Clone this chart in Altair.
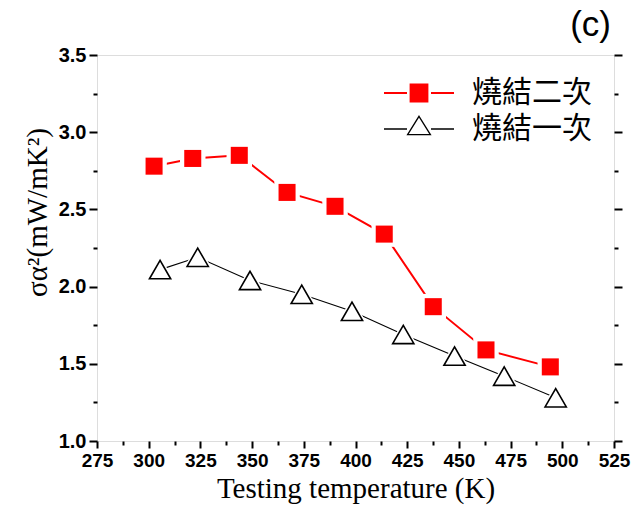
import altair as alt
import pandas as pd

# ---- data ----
series_names = ["燒結二次", "燒結一次"]
temp_twice = [302.6, 321.3, 343.8, 366.9, 390.1, 413.9, 437.6, 463.1, 494.2]
pf_twice = [2.78, 2.83, 2.85, 2.61, 2.52, 2.34, 1.87, 1.59, 1.48]
temp_once = [305.5, 323.7, 349.0, 374.0, 398.3, 423.1, 447.9, 471.9, 496.8]
pf_once = [2.11, 2.19, 2.04, 1.95, 1.84, 1.69, 1.55, 1.42, 1.28]

x_ticks = [275, 287.5, 300, 312.5, 325, 337.5, 350, 362.5, 375, 387.5, 400,
           412.5, 425, 437.5, 450, 462.5, 475, 487.5, 500, 512.5, 525]
y_ticks = [1.0, 1.25, 1.5, 1.75, 2.0, 2.25, 2.5, 2.75, 3.0, 3.25, 3.5]

df = pd.DataFrame({
    "T": temp_twice + temp_once,
    "PF": pf_twice + pf_once,
    "s": [series_names[0]] * len(temp_twice) + [series_names[1]] * len(temp_once),
})

xs = alt.Scale(domain=[275, 525], nice=False, zero=False)
ys = alt.Scale(domain=[1.0, 3.5], nice=False, zero=False)

lab_font = "Liberation Sans"
title_font = "Liberation Serif"

x_axis = alt.Axis(
    values=x_ticks, format="d", labelOverlap=False, labelFlush=False,
    labelExpr="datum.value % 25 == 0 ? datum.label : ''",
    tickSize={"condition": {"test": "datum.value % 25 == 0", "value": 7}, "value": 4},
    tickWidth=2, tickColor="black", domain=False, grid=False,
    labelFont=lab_font, labelFontWeight="bold", labelFontSize=19, labelColor="black",
    labelPadding=3,
    title="Testing temperature (K)", titleFont=title_font, titleFontSize=29,
    titleFontWeight="normal", titleColor="black", titlePadding=4,
)
y_major = "abs(datum.value*2 - round(datum.value*2)) < 0.001"
y_axis = alt.Axis(
    values=y_ticks, format=".1f", labelOverlap=False, labelFlush=False,
    labelExpr=y_major + " ? datum.label : ''",
    tickSize={"condition": {"test": y_major, "value": 8}, "value": 4},
    tickWidth=2, tickColor="black", domain=False, grid=False,
    labelFont=lab_font, labelFontWeight="bold", labelFontSize=20, labelColor="black",
    labelPadding=3,
    title="σα²(mW/mK²)", titleFont=title_font, titleFontSize=29,
    titleFontWeight="normal", titleColor="black", titlePadding=6, titleY=157,
)
y_axis_right = alt.Axis(
    values=y_ticks, orient="right", labels=False, title=None, domain=False, grid=False,
    tickSize={"condition": {"test": y_major, "value": 8}, "value": 4},
    tickWidth=2, tickColor="black",
)

base = alt.Chart(df)
is_twice = alt.datum.s == series_names[0]
is_once = alt.datum.s == series_names[1]

X = alt.X("T:Q", scale=xs, axis=x_axis)


def Y(axis=None):
    return alt.Y("PF:Q", scale=ys, axis=axis)


line_twice = base.transform_filter(is_twice).mark_line(color="#ff0000", strokeWidth=2).encode(
    x=X, y=Y(y_axis))
bg_twice = base.transform_filter(is_twice).mark_point(
    shape="square", size=650, filled=True, color="white", opacity=1).encode(x=X, y=Y())
pts_twice = base.transform_filter(is_twice).mark_point(
    shape="square", size=290, filled=True, color="#ff0000", opacity=1).encode(x=X, y=Y())

line_once = base.transform_filter(is_once).mark_line(color="black", strokeWidth=1.1).encode(
    x=X, y=Y(y_axis_right))
bg_once = base.transform_filter(is_once).mark_point(
    shape="triangle-up", size=1000, filled=True, color="white", opacity=1).encode(x=X, y=Y())
pts_once = base.transform_filter(is_once).mark_point(
    shape="triangle-up", size=450, fill="white", stroke="black", strokeWidth=1.6, opacity=1).encode(
    x=X, y=Y())

# legend symbols: line - marker - line, as custom paths
path_twice = "M-1.75,0H-0.6M0.6,0H1.75M-0.42,-0.42H0.42V0.42H-0.42Z"
path_once = "M-1.75,0H-0.6M0.6,0H1.75M0,-0.635L0.57,0.285L-0.57,0.285Z"

leg = alt.Legend(
    title=None, orient="none", legendX=301, legendY=17, padding=0,
    symbolSize=1600, rowPadding=0, labelOffset=32,
    labelFont="Noto Sans CJK TC", labelFontSize=30, labelColor="black",
    labelBaseline="middle", labelLimit=300,
)
legend_layer = base.transform_filter("false").mark_point(filled=True, opacity=1).encode(
    x=X, y=Y(),
    shape=alt.Shape("s:N", scale=alt.Scale(domain=series_names, range=[path_twice, path_once]), legend=leg),
    fill=alt.Fill("s:N", scale=alt.Scale(domain=series_names, range=["#ff0000", "#ffffff"]), legend=leg),
    stroke=alt.Stroke("s:N", scale=alt.Scale(domain=series_names, range=["#ff0000", "#000000"]), legend=leg),
    strokeWidth=alt.StrokeWidth("s:N", scale=alt.Scale(domain=series_names, range=[2, 1.3]), legend=leg),
)

chart = alt.layer(
    line_twice, bg_twice, pts_twice, line_once, bg_once, pts_once, legend_layer
).resolve_axis(y="independent").properties(
    width=517, height=386,
    padding={"left": 97, "top": 55, "right": 20, "bottom": 70},
    autosize=alt.AutoSizeParams(type="none"),
    title=alt.TitleParams("(c)", anchor="end", frame="group", font="Liberation Sans",
                          fontSize=35, fontWeight="normal", color="black", offset=2, dx=-3),
).configure_view(stroke="black", strokeWidth=2).configure(background="white")

chart.save("out.html", embed_options={"renderer": "svg", "actions": False})
